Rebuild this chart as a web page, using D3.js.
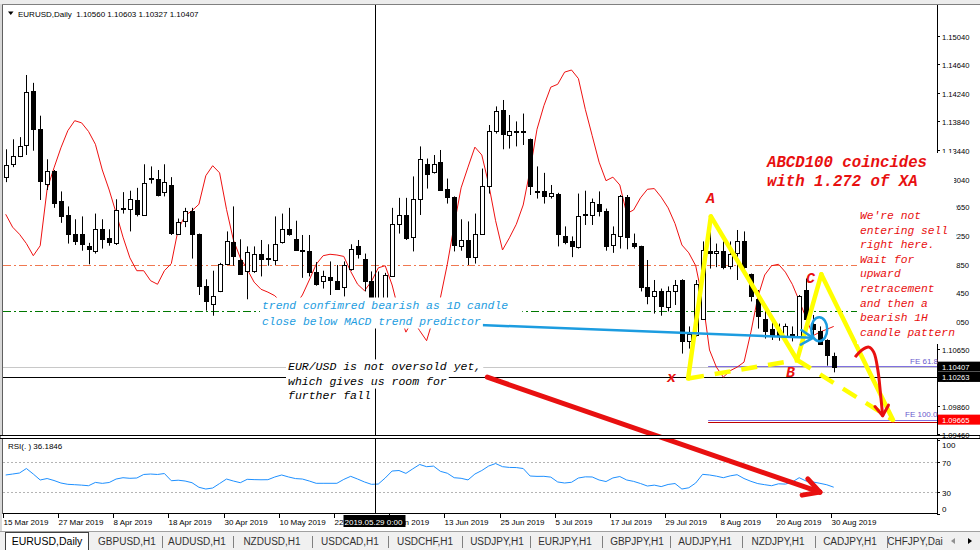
<!DOCTYPE html>
<html><head><meta charset="utf-8">
<script src="https://cdn.jsdelivr.net/npm/d3@7"></script>
<style>
html,body{margin:0;padding:0;background:#fff;overflow:hidden;}
svg{display:block;font-family:"Liberation Sans",Arial,sans-serif;}
</style></head><body>
<svg id="c" width="980" height="550"></svg>
<script>
// ---------------- DATA ----------------
const openP=[1.1306,1.1325,1.1335,1.1351,1.1427,1.1374,1.1297,1.1314,1.1272,1.1253,1.1227,1.1227,1.1209,1.1202,1.1234,1.1221,1.1214,1.1261,1.1262,1.1274,1.1253,1.1305,1.1304,1.1285,1.1295,1.1227,1.1244,1.1259,1.1226,1.1154,1.1129,1.1147,1.1185,1.1215,1.1190,1.1174,1.1174,1.1199,1.1193,1.1190,1.1215,1.1234,1.1220,1.1204,1.1203,1.1173,1.1161,1.1166,1.1160,1.1152,1.1177,1.1209,1.1191,1.1160,1.1134,1.1120,1.1167,1.1241,1.1253,1.1222,1.1276,1.1324,1.1313,1.1327,1.1289,1.1278,1.1210,1.1218,1.1194,1.1226,1.1293,1.1370,1.1400,1.1365,1.1369,1.1370,1.1360,1.1287,1.1286,1.1279,1.1283,1.1224,1.1216,1.1208,1.1254,1.1253,1.1269,1.1259,1.1211,1.1224,1.1278,1.1214,1.1210,1.1152,1.1140,1.1147,1.1124,1.1146,1.1162,1.1077,1.1085,1.1107,1.1202,1.1200,1.1202,1.1181,1.1200,1.1216,1.1171,1.1136,1.1107,1.1093,1.1092,1.1083,1.1086,1.1084,1.1148,1.1101,1.1091,1.1078,1.10560];
const highP=[1.1345,1.1359,1.1362,1.1449,1.1438,1.1392,1.1331,1.1316,1.1286,1.1265,1.1247,1.1251,1.1214,1.1255,1.1247,1.1233,1.1275,1.1285,1.1287,1.1291,1.1324,1.1321,1.1316,1.1324,1.1306,1.1248,1.1263,1.1263,1.1227,1.1163,1.1175,1.1186,1.1230,1.1265,1.1219,1.1209,1.1209,1.1218,1.1212,1.1251,1.1255,1.1263,1.1245,1.1225,1.1225,1.1187,1.1175,1.1188,1.1183,1.1188,1.1212,1.1218,1.1199,1.1174,1.1174,1.1172,1.1263,1.1277,1.1277,1.1307,1.1349,1.1332,1.1337,1.1344,1.1304,1.1279,1.1247,1.1244,1.1255,1.1318,1.1379,1.1405,1.1414,1.1393,1.1384,1.1395,1.1360,1.1321,1.1312,1.1295,1.1284,1.1237,1.1223,1.1283,1.1287,1.1276,1.1286,1.1262,1.1237,1.1281,1.1281,1.1227,1.1210,1.1190,1.1162,1.1150,1.1153,1.1162,1.1163,1.1097,1.1162,1.1216,1.1232,1.1213,1.1216,1.1216,1.1232,1.1230,1.1171,1.1148,1.1120,1.1106,1.1101,1.1101,1.1097,1.1141,1.1164,1.1113,1.1097,1.1079,1.10603];
const lowP=[1.1299,1.1320,1.1334,1.1337,1.1343,1.1274,1.1288,1.1263,1.1242,1.1213,1.1211,1.1203,1.1184,1.1199,1.1206,1.1210,1.1211,1.1255,1.1230,1.1251,1.1252,1.1297,1.1279,1.1279,1.1225,1.1226,1.1236,1.1192,1.1141,1.1119,1.1112,1.1145,1.1184,1.1182,1.1170,1.1135,1.1172,1.1167,1.1182,1.1183,1.1213,1.1224,1.1204,1.1165,1.1167,1.1154,1.1150,1.1141,1.1148,1.1139,1.1175,1.1192,1.1146,1.1113,1.1109,1.1112,1.1167,1.1227,1.1218,1.1202,1.1253,1.1290,1.1311,1.1288,1.1269,1.1202,1.1203,1.1183,1.1185,1.1226,1.1283,1.1367,1.1345,1.1346,1.1349,1.1351,1.1281,1.1276,1.1269,1.1276,1.1209,1.1212,1.1194,1.1206,1.1239,1.1239,1.1251,1.1203,1.1200,1.1206,1.1205,1.1206,1.1146,1.1128,1.1115,1.1112,1.1118,1.1127,1.1059,1.1066,1.1083,1.1106,1.1178,1.1180,1.1177,1.1177,1.1162,1.1174,1.1132,1.1094,1.1080,1.1078,1.1077,1.1079,1.1076,1.1083,1.1101,1.1083,1.1071,1.1042,1.10327];
const closeP=[1.1323,1.1335,1.1350,1.1425,1.1373,1.1301,1.1315,1.1270,1.1252,1.1226,1.1217,1.1213,1.1205,1.1233,1.1220,1.1215,1.1260,1.1263,1.1275,1.1254,1.1298,1.1303,1.1281,1.1299,1.1228,1.1243,1.1258,1.1227,1.1153,1.1132,1.1140,1.1184,1.1217,1.1195,1.1171,1.1201,1.1199,1.1191,1.1191,1.1212,1.1234,1.1226,1.1204,1.1203,1.1173,1.1156,1.1167,1.1162,1.1150,1.1183,1.1205,1.1198,1.1160,1.1127,1.1120,1.1169,1.1241,1.1253,1.1221,1.1276,1.1332,1.1311,1.1325,1.1288,1.1278,1.1211,1.1218,1.1194,1.1227,1.1293,1.1370,1.1399,1.1367,1.1370,1.1370,1.1369,1.1293,1.1286,1.1279,1.1284,1.1226,1.1215,1.1209,1.1251,1.1253,1.1271,1.1258,1.1210,1.1226,1.1279,1.1222,1.1209,1.1152,1.1140,1.1147,1.1125,1.1146,1.1155,1.1077,1.1086,1.1157,1.1204,1.1200,1.1202,1.1180,1.1198,1.1216,1.1180,1.1139,1.1111,1.1090,1.1083,1.1083,1.1097,1.1082,1.1140,1.1107,1.1094,1.1073,1.1057,1.10407];
const trendPredictor=[1.1254,1.1236,1.1226,1.1213,1.1196,1.1210,1.1289,1.1319,1.1347,1.1371,1.1385,1.1382,1.1370,1.1352,1.1316,1.1288,1.1256,1.1222,1.1193,1.1175,1.1175,1.1161,1.1156,1.1175,1.1185,1.1233,1.1252,1.1259,1.1268,1.1308,1.1322,1.1312,1.1261,1.1218,1.1193,1.1177,1.1159,1.1149,1.1145,1.1140,1.1130,1.1121,1.1127,1.1141,1.1162,1.1184,1.1196,1.1198,1.1197,1.1195,1.1174,1.1156,1.1147,1.1160,1.1179,1.1182,1.1155,1.1117,1.1089,1.1106,1.1091,1.1077,1.1109,1.1137,1.1184,1.1239,1.1291,1.1320,1.1348,1.1337,1.1296,1.1245,1.1204,1.1221,1.1240,1.1267,1.1316,1.1373,1.1406,1.1432,1.1436,1.1453,1.1456,1.1444,1.1401,1.1364,1.1327,1.1301,1.1306,1.1295,1.1255,1.1260,1.1277,1.1289,1.1290,1.1278,1.1263,1.1241,1.1211,1.1200,1.1182,1.1135,1.1064,1.1040,1.1026,1.1035,1.1040,1.1047,1.1089,1.1138,1.1169,1.1182,1.1184,1.1173,1.1156,1.1133,1.1109,1.1084,1.1089,1.1093,1.1097];
const rsiValues=[52.8,54.1,55.5,61.6,54.1,46.0,48.0,45.3,41.9,40.1,39.6,39.0,38.2,42.7,41.4,42.6,47.3,49.1,48.3,48.7,53.5,54.1,53.5,54.8,45.0,45.7,44.6,42.3,36.1,33.7,35.1,41.2,47.3,44.6,42.3,46.9,46.5,46.3,46.4,50.1,52.8,50.1,47.9,47.3,44.6,41.5,41.5,41.5,41.5,46.8,51.0,47.3,43.3,40.1,40.5,48.7,58.2,58.9,55.0,61.2,67.1,64.1,64.9,57.8,55.2,49.1,48.3,46.1,54.1,58.9,65.0,68.4,64.1,63.1,62.9,61.6,51.4,50.9,51.0,49.9,43.3,41.9,42.9,48.7,50.3,50.1,46.0,43.9,48.8,50.7,46.0,44.1,41.2,37.8,39.0,37.0,39.9,41.2,33.7,35.4,41.9,53.7,52.8,51.2,49.1,51.6,53.2,48.0,44.2,41.1,39.6,38.2,40.8,40.4,43.3,49.1,44.6,43.3,41.5,39.5,36.2];
const priceTicks=[1.15040,1.14640,1.14240,1.13840,1.13440,1.13040,1.12650,1.12250,1.11850,1.11450,1.11050,1.10650,1.10250,1.09860,1.09460];
const rsiTicks=[100,70,30,0];
const rsiLevels=[70,30];
const dateTickIdx=[0,8,16,24,32,40,48,56,64,72,80,88,96,104,112,120];
const dateTickLabels=["15 Mar 2019","27 Mar 2019","8 Apr 2019","18 Apr 2019","30 Apr 2019","10 May 2019","22 May 2019","3 Jun 2019","13 Jun 2019","25 Jun 2019","5 Jul 2019","17 Jul 2019","29 Jul 2019","8 Aug 2019","20 Aug 2019","30 Aug 2019"];
const bidPrice=1.10407, hLineBlack=1.10263, hLineOrange=1.1183, hLineGreen=1.1119;
const fe618=1.1041, fe100=1.09665, feStartIdx=101.8;
const crosshairIdx=53.5, crosshairLabel="2019.05.29 0:00";
// XABCD pattern (bar index, price)
const patIdx={X:98.9,A:102.2,B:114.7,C:118.2,D:128.6};
const patPrice={X:1.1024,A:1.1251,B:1.1050,C:1.1170,D:1.0966};
const blueTrend=[[68.7,1.1099],[117.0,1.1081]];
const bigArrow=[[69.8,1.1026],[118.0,1.0865]];
const tabNames=["EURUSD,Daily","GBPUSD,H1","AUDUSD,H1","NZDUSD,H1","USDCAD,H1","USDCHF,H1","USDJPY,H1","EURJPY,H1","GBPJPY,H1","AUDJPY,H1","NZDJPY,H1","CADJPY,H1","CHFJPY,Dai"];

// ---------------- SCALES ----------------
const svg=d3.select('#c');
const x=d3.scaleLinear().domain([0,120]).range([5.7,833.7]);
const y=d3.scaleLinear().domain([1.0945,1.1504]).range([435,35.7]);
const yr=d3.scaleLinear().domain([0,100]).range([513.8,440.3]);
const L=3, R=937;

svg.append('rect').attr('width',980).attr('height',550).attr('fill','#fff');
// top strip of stacked windows
svg.append('rect').attr('x',0).attr('y',0).attr('width',980).attr('height',4).attr('fill','#ececec');
svg.append('line').attr('x1',0).attr('x2',980).attr('y1',4.5).attr('y2',4.5).attr('stroke','#808080');
// left border
svg.append('rect').attr('x',0).attr('y',4).attr('width',2).attr('height',527).attr('fill','#d8d8d8');
svg.append('line').attr('x1',2.5).attr('x2',2.5).attr('y1',5).attr('y2',514).attr('stroke','#606060');

// ---------------- horizontal objects ----------------
const hl=svg.append('g');
function hline(p,col,dash,x1,x2,w){hl.append('line').attr('x1',x1).attr('x2',x2).attr('y1',Math.round(y(p))+0.5).attr('y2',Math.round(y(p))+0.5).attr('stroke',col).attr('stroke-width',w||1).attr('stroke-dasharray',dash||null);}
hline(hLineOrange,'#f07850','8,3,2,3',L,R);
hline(hLineGreen,'#007800','8,3,2,3',L,R);
hline(bidPrice,'#c8c8c8',null,L,R);
hline(hLineBlack,'#000',null,L,R);
hline(fe618,'#8070e0',null,x(feStartIdx),R);
hline(fe100,'#8070e0',null,x(feStartIdx),R);
hl.append('line').attr('x1',x(feStartIdx)).attr('x2',R).attr('y1',Math.round(y(fe100))+2.5).attr('y2',Math.round(y(fe100))+2.5).attr('stroke','#c00000');

// ---------------- RSI panel ----------------
const rg=svg.append('g');
rsiLevels.forEach(v=>rg.append('line').attr('x1',L).attr('x2',R).attr('y1',Math.round(yr(v))+0.5).attr('y2',Math.round(yr(v))+0.5).attr('stroke','#b4b4b4').attr('stroke-dasharray','2,2'));
rg.append('path').datum(rsiValues).attr('fill','none').attr('stroke','#1e90ff').attr('stroke-width',1)
  .attr('d',d3.line().x((d,i)=>x(i)).y(d=>yr(d)));
rg.append('text').attr('x',8).attr('y',449).attr('font-size',8).text('RSI(.  ) 36.1846');

// ---------------- indicator (red) ----------------
svg.append('path').datum(trendPredictor).attr('fill','none').attr('stroke','#ee1111').attr('stroke-width',1)
  .attr('d',d3.line().x((d,i)=>x(i)).y(d=>y(d)));

// ---------------- candles ----------------
const cg=svg.append('g');
openP.forEach((o,i)=>{
  const c=closeP[i],h=highP[i],l=lowP[i];
  const cx=Math.round(x(i))+0.5;
  cg.append('line').attr('x1',cx).attr('x2',cx).attr('y1',y(h)).attr('y2',y(l)).attr('stroke','#000');
  const top=Math.round(y(Math.max(o,c)))+0.5, bot=Math.round(y(Math.min(o,c)))+0.5;
  cg.append('rect').attr('x',cx-2).attr('y',top).attr('width',4).attr('height',Math.max(bot-top,1))
    .attr('fill',c>=o?'#fff':'#000').attr('stroke','#000');
});

// ---------------- XABCD ----------------
const P=k=>[x(patIdx[k]),y(patPrice[k])];
const yg=svg.append('g').attr('stroke','#ffff00').attr('stroke-width',4.5).attr('stroke-linecap','round').attr('fill','none');
[['X','A'],['A','B'],['B','C'],['C','D']].forEach(([a,b])=>yg.append('line').attr('x1',P(a)[0]).attr('y1',P(a)[1]).attr('x2',P(b)[0]).attr('y2',P(b)[1]));
[['X','B'],['B','D']].forEach(([a,b])=>yg.append('line').attr('x1',P(a)[0]).attr('y1',P(a)[1]).attr('x2',P(b)[0]).attr('y2',P(b)[1]).attr('stroke-dasharray','16,11').attr('stroke-linecap','butt'));

function arrow(g,x1,y1,x2,y2,len,ang,col,w){
  const a=Math.atan2(y2-y1,x2-x1);
  [-1,1].forEach(s=>g.append('line').attr('x1',x2).attr('y1',y2).attr('x2',x2-len*Math.cos(a+s*ang)).attr('y2',y2-len*Math.sin(a+s*ang)).attr('stroke',col).attr('stroke-width',w).attr('stroke-linecap','round'));
}
// blue trend line
const bg=svg.append('g');
const b1=[x(blueTrend[0][0]),y(blueTrend[0][1])], b2=[x(blueTrend[1][0]),y(blueTrend[1][1])];
bg.append('line').attr('x1',b1[0]).attr('y1',b1[1]).attr('x2',b2[0]).attr('y2',b2[1]).attr('stroke','#1c9ce0').attr('stroke-width',2.5);
arrow(bg,b1[0],b1[1],b2[0],b2[1],14,0.55,'#1c9ce0',2.5);
bg.append('ellipse').attr('cx',x(117.9)).attr('cy',y(1.1093)).attr('rx',8).attr('ry',12).attr('fill','none').attr('stroke','#1c9ce0').attr('stroke-width',2.5);

// red arrows
const ag=svg.append('g');
const a1=[x(bigArrow[0][0]),y(bigArrow[0][1])], a2=[x(bigArrow[1][0]),y(bigArrow[1][1])];
ag.append('line').attr('x1',a1[0]).attr('y1',a1[1]).attr('x2',a2[0]).attr('y2',a2[1]).attr('stroke','#e81010').attr('stroke-width',5).attr('stroke-linecap','round');
arrow(ag,a1[0],a1[1],a2[0],a2[1],18,0.5,'#e81010',5);
const curve=[[123.1,1.1054],[124.1,1.1064],[125.1,1.1068],[125.8,1.1061],[126.4,1.1036],[126.8,1.1001],[127.1,1.0972]];
ag.append('path').datum(curve).attr('fill','none').attr('stroke','#e81010').attr('stroke-width',3)
  .attr('d',d3.line().curve(d3.curveCatmullRom).x(d=>x(d[0])).y(d=>y(d[1])));
arrow(ag,x(126.8),y(1.1001),x(127.1),y(1.0972),12,0.6,'#e81010',3);

// ---------------- crosshair ----------------
const chx=Math.round(x(crosshairIdx))+0.5;
svg.append('line').attr('x1',chx).attr('x2',chx).attr('y1',5).attr('y2',514).attr('stroke','#000');

// ---------------- panel frames & axes ----------------
const fg=svg.append('g');
fg.append('line').attr('x1',R+0.5).attr('x2',R+0.5).attr('y1',5).attr('y2',514).attr('stroke','#000');
fg.append('rect').attr('x',0).attr('y',435.5).attr('width',980).attr('height',3).attr('fill','#fff').attr('stroke','#000');
fg.append('line').attr('x1',L).attr('x2',R).attr('y1',513.5).attr('y2',513.5).attr('stroke','#000');
priceTicks.forEach(p=>{
  const yy=Math.round(y(p))+0.5;
  fg.append('line').attr('x1',R).attr('x2',R+3).attr('y1',yy).attr('y2',yy).attr('stroke','#000');
  fg.append('text').attr('x',942).attr('y',yy+3).attr('font-size',7.6).text(p.toFixed(5));
});
rsiTicks.forEach(v=>{
  const yy=v===100?445:v===0?509:Math.round(yr(v))+0.5;
  fg.append('line').attr('x1',R).attr('x2',R+3).attr('y1',Math.round(yr(v))+0.5).attr('y2',Math.round(yr(v))+0.5).attr('stroke','#000');
  fg.append('text').attr('x',942).attr('y',yy+3).attr('font-size',8).text(v);
});
dateTickIdx.forEach((d,k)=>{
  const xx=Math.round(x(d))-2.5;
  fg.append('line').attr('x1',xx).attr('x2',xx).attr('y1',514).attr('y2',518).attr('stroke','#000');
  fg.append('text').attr('x',xx).attr('y',525).attr('font-size',8).text(dateTickLabels[k]);
});
// crosshair date label
fg.append('rect').attr('x',chx-32).attr('y',515).attr('width',62).attr('height',12).attr('fill','#000');
fg.append('text').attr('x',chx-31).attr('y',524.5).attr('font-size',8).attr('fill','#fff').text(crosshairLabel);

// header
svg.append('path').attr('d','M8,11.5 L13.5,11.5 L10.75,15 Z').attr('fill','#000');
svg.append('text').attr('x',18).attr('y',16.5).attr('font-size',8).attr('xml:space','preserve')
  .text('EURUSD,Daily  '+[openP[120],highP[120],lowP[120],closeP[120]].map(v=>v.toFixed(5)).join(' '));

// ---------------- text annotations ----------------
const tg=svg.append('g');
function textLines(lines,x0,y0,lh,size,col,weight,pad){
  lines.forEach((s,i)=>{
    const t=tg.append('text').attr('x',x0).attr('y',y0+i*lh).attr('font-family','"Liberation Mono","Courier New",monospace')
      .attr('font-style','italic').attr('font-weight',weight||'normal').attr('font-size',size).attr('fill',col).attr('xml:space','preserve').text(s);
    if(pad!==undefined){const b=t.node().getBBox();
      tg.insert('rect','text').attr('x',b.x-2).attr('y',y0+i*lh-lh+4).attr('width',b.width+4+(pad[i]||0)).attr('height',lh).attr('fill','#fff');}
  });
}
textLines(['trend confimred bearish as 1D candle','close below MACD trend predictor'],262,309,15.5,11.4,'#1c9ce0','normal',[12,0]);
textLines(['EUR/USD is not oversold yet,','which gives us room for','further fall'],288,370,14.6,11.5,'#000','normal',[0,0,0]);
tg.append('rect').attr('x',765).attr('y',153).attr('width',189).attr('height',47).attr('fill','#fff');
tg.append('rect').attr('x',857).attr('y',200).attr('width',99).attr('height',144).attr('fill','#fff');
textLines(['ABCD100 coincides','with 1.272 of XA'],767,167,19,15.7,'#e81010','bold');
textLines(["We're not","entering sell","right here.","Wait for","upward","retracement","and then a","bearish 1H","candle pattern"],860,219,14.6,11.3,'#e81010','normal');
[['A',706,203],['x',667,382],['B',786,377],['C',806,283]].forEach(([s,xx,yy])=>tg.append('text').attr('x',xx).attr('y',yy)
  .attr('font-family','"Liberation Mono","Courier New",monospace').attr('font-style','italic').attr('font-weight','bold').attr('font-size',15).attr('fill','#e81010').text(s));
tg.append('text').attr('x',910).attr('y',364).attr('font-size',8).attr('fill','#6a5acd').text('FE 61.8');
tg.append('text').attr('x',905).attr('y',417).attr('font-size',8).attr('fill','#6a5acd').text('FE 100.0');

// price labels on axis
function plabel(p,bgc){const yy=y(p);svg.append('rect').attr('x',938).attr('y',yy-5).attr('width',42).attr('height',10).attr('fill',bgc);
  svg.append('text').attr('x',942).attr('y',yy+3).attr('font-size',7.6).attr('fill','#fff').text(p.toFixed(5));}
plabel(bidPrice,'#000');plabel(hLineBlack,'#000');plabel(fe100,'#ff0000');

// ---------------- tabs ----------------
const tb=svg.append('g');
tb.append('rect').attr('x',0).attr('y',531).attr('width',980).attr('height',19).attr('fill','#f0f0f0');
tb.append('line').attr('x1',0).attr('x2',980).attr('y1',531.5).attr('y2',531.5).attr('stroke','#a0a0a0');
tb.append('rect').attr('x',5.5).attr('y',532.5).attr('width',83).attr('height',18).attr('fill','#fff').attr('stroke','#404040');
const tabCenters=[47,127,197,272,350,425,497,565,637,705,778,850,915];
const seps=[162,233,312,388,462,530,602,670,742,815,887];
tabNames.forEach((n,i)=>tb.append('text').attr('x',tabCenters[i]).attr('y',545).attr('text-anchor','middle').attr('font-size',i===0?10.5:10).attr('fill',i===0?'#000':'#333').text(n));
seps.forEach(s=>tb.append('line').attr('x1',s+0.5).attr('x2',s+0.5).attr('y1',536).attr('y2',548).attr('stroke','#808080'));
tb.append('path').attr('d','M951,541 L955,538 L955,544 Z').attr('fill','#909090');
tb.append('path').attr('d','M972,541 L968,538 L968,544 Z').attr('fill','#000');
</script>
</body></html>
